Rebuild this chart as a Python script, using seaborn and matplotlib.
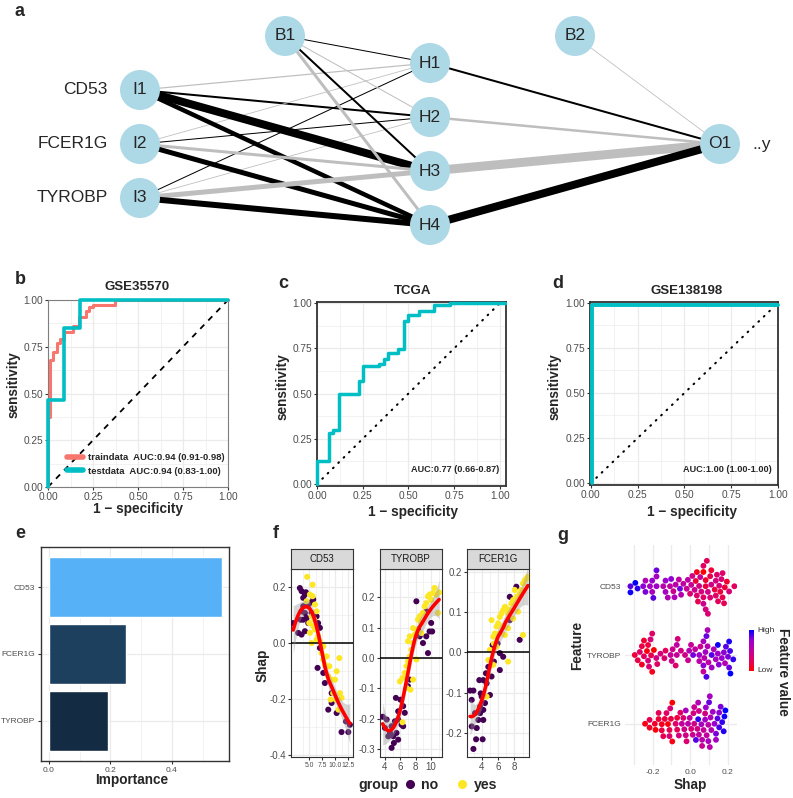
import numpy as np
import pandas as pd
import matplotlib
matplotlib.use("Agg")
import matplotlib.pyplot as plt
import seaborn as sns
from matplotlib.colors import LinearSegmentedColormap, Normalize, to_rgb
from matplotlib.lines import Line2D
import matplotlib.colorbar as mcolorbar

# ------------------------------------------------------------------ data
# (a) neural network
net_inputs = ["CD53", "FCER1G", "TYROBP"]
hidden_names = ["H1", "H2", "H3", "H4"]
w_ih = [[-1.2, 2.0, 8.0, 4.5],
        [-0.8, 1.0, -3.0, 5.0],
        [1.0, -0.8, -5.0, 6.0]]
w_b1h = [1.0, -1.0, 2.0, -3.0]
w_ho = [2.0, -2.5, -9.0, 8.0]
w_b2o = [-0.8]

# (b) GSE35570 ROC
train_fpr = [0, 0, 0.01, 0.01, 0.03, 0.03, 0.05, 0.05, 0.065, 0.065, 0.09, 0.09, 0.14, 0.14,
             0.17, 0.17, 0.21, 0.21, 0.23, 0.23, 0.25, 0.25, 0.37, 0.37, 1.0]
train_tpr = [0, 0.375, 0.375, 0.68, 0.68, 0.72, 0.72, 0.77, 0.77, 0.79, 0.79, 0.83, 0.83, 0.86,
             0.86, 0.91, 0.91, 0.94, 0.94, 0.96, 0.96, 0.975, 0.975, 1.0, 1.0]
test_fpr = [0, 0, 0.087, 0.087, 0.177, 0.177, 1.0]
test_tpr = [0, 0.464, 0.464, 0.848, 0.848, 1.0, 1.0]
b_labels = ["traindata  AUC:0.94 (0.91-0.98)", "testdata  AUC:0.94 (0.83-1.00)"]

# (c) TCGA ROC
tcga_fpr = [0, 0, 0.064, 0.064, 0.087, 0.087, 0.118, 0.118, 0.227, 0.227, 0.25, 0.25, 0.34, 0.34,
            0.364, 0.364, 0.39, 0.39, 0.445, 0.445, 0.473, 0.473, 0.496, 0.496, 0.555, 0.555,
            0.64, 0.64, 0.727, 0.727, 1.03]
tcga_tpr = [0, 0.127, 0.127, 0.28, 0.28, 0.30, 0.30, 0.497, 0.497, 0.57, 0.57, 0.65, 0.65, 0.665,
            0.665, 0.69, 0.69, 0.726, 0.726, 0.744, 0.744, 0.90, 0.90, 0.936, 0.936, 0.954,
            0.954, 0.99, 0.99, 1.0, 1.0]
tcga_auc = "AUC:0.77 (0.66-0.87)"

# (d) GSE138198 ROC
geo2_fpr = [0.005, 0.005, 1.0]
geo2_tpr = [0, 0.99, 0.99]
geo2_auc = "AUC:1.00 (1.00-1.00)"

# (e) importance
imp_features = ["CD53", "FCER1G", "TYROBP"]
imp_values = [0.564, 0.250, 0.193]

# (f)/(g) SHAP dependence data
cd53_no_x = [1.92, 3.2, 3.53, 3.85, 4.17, 3.85, 3.53, 3.33, 3.85, 4.17, 4.49, 4.81, 2.88, 3.53, 4.17,
             4.81, 4.36, 5.13, 5.77, 5.45, 6.41, 6.7, 7.05, 6.6, 7.7, 8.0, 9.3, 8.65, 9.3, 10.26,
             11.2, 12.05, 12.8, 12.5, 7.05]
cd53_no_y = [0.071, 0.196, 0.185, 0.161, 0.173, 0.131, 0.113, 0.083, 0.083, 0.107, 0.089, 0.071,
             0.036, 0.030, 0.042, 0.137, 0.181, 0.143, 0.155, 0.107, 0.095, 0.071, 0.054, -0.089,
             -0.107, -0.143, -0.179, -0.238, -0.214, -0.25, -0.318, -0.28, -0.292, -0.318, -0.018]
cd53_yes_x = [4.6, 5.64, 5.13, 5.64, 6.1, 4.49, 6.41, 5.45, 5.77, 5.13, 5.45, 6.1, 6.73, 7.05, 7.37,
              7.7, 8.0, 8.33, 8.85, 9.3, 9.94, 10.77, 10.26, 8.65, 9.6, 9.1, 10.1, 10.6, 10.9, 11.2,
              6.41, 7.7, 5.0, 5.96]
cd53_yes_y = [0.236, 0.208, 0.173, 0.167, 0.137, 0.149, 0.113, 0.095, 0.06, 0.036, 0.0, 0.048,
              0.024, 0.006, -0.036, -0.06, -0.077, -0.048, -0.083, -0.131, -0.131, -0.054, -0.101,
              -0.119, -0.179, -0.202, -0.202, -0.238, -0.179, -0.196, 0.012, -0.012, 0.071, 0.083]

tyrobp_no_x = [3.70, 4.22, 4.0, 4.86, 4.65, 5.08, 5.5, 5.72, 4.86, 5.29, 6.15, 6.37, 5.42, 6.02, 5.72,
               6.37, 6.58, 5.72, 7.23, 8.09, 8.3, 8.52, 8.95, 9.38, 9.6, 9.81, 10.02, 9.38, 10.15,
               7.0, 4.43, 5.16]
tyrobp_no_y = [-0.193, -0.202, -0.23, -0.224, -0.246, -0.257, -0.246, -0.268, -0.295, -0.208,
               -0.219, -0.224, -0.131, -0.137, -0.175, -0.158, -0.18, -0.202, -0.071, 0.186,
               0.093, 0.071, 0.049, 0.071, 0.016, 0.087, 0.115, 0.153, 0.087, -0.093, -0.257, -0.279]
tyrobp_yes_x = [6.28, 5.94, 6.28, 6.58, 6.8, 7.0, 7.23, 7.44, 7.66, 7.0, 7.23, 7.66, 8.09, 8.3, 8.52,
                8.73, 8.95, 9.16, 9.38, 9.6, 9.81, 10.02, 10.24, 10.45, 10.67, 10.9, 6.8, 7.31, 7.66,
                8.09, 7.87, 8.73, 11.05]
tyrobp_yes_y = [-0.211, -0.077, -0.066, -0.049, -0.027, -0.011, 0.005, 0.027, 0.049, 0.055, 0.071,
                0.098, 0.093, 0.126, 0.137, 0.115, 0.148, 0.169, 0.18, 0.202, 0.208, 0.191, 0.213,
                0.23, 0.208, 0.148, -0.098, -0.104, -0.071, -0.005, 0.076, 0.082, 0.215]

fcer1g_no_x = [2.53, 2.94, 2.73, 3.14, 2.73, 2.94, 3.27, 4.08, 3.35, 3.55, 3.76, 3.76, 4.16, 4.37,
               3.96, 3.67, 4.16, 4.57, 4.49, 4.78, 5.18, 5.47, 5.31, 6.2, 6.61, 6.2, 7.43, 8.24,
               8.65, 7.43, 4.16, 3.84, 4.98, 5.92]
fcer1g_no_y = [-0.095, -0.095, -0.118, -0.151, -0.184, -0.24, -0.216, -0.216, -0.188, -0.168,
               -0.151, -0.135, -0.143, -0.126, -0.11, -0.069, -0.069, -0.077, -0.052, -0.036,
               -0.06, -0.023, 0.018, -0.044, -0.011, -0.002, 0.138, 0.163, 0.031, 0.08, -0.168,
               -0.102, -0.106, 0.022]
fcer1g_yes_x = [4.78, 4.98, 5.39, 5.59, 5.8, 6.0, 6.2, 6.41, 6.61, 6.82, 7.02, 7.22, 7.43, 7.63,
                7.84, 8.04, 8.24, 8.45, 8.65, 8.86, 9.06, 9.27, 9.47, 9.67, 9.06, 6.61, 6.2, 5.8,
                5.47, 5.18, 6.82, 7.22, 7.84, 7.22, 5.39, 4.57]
fcer1g_yes_y = [-0.019, 0.006, 0.039, 0.047, 0.064, 0.072, 0.088, 0.097, 0.105, 0.113, 0.109,
                0.097, 0.105, 0.121, 0.13, 0.155, 0.138, 0.101, 0.146, 0.155, 0.171, 0.179, 0.183,
                0.188, 0.043, 0.064, 0.047, 0.014, 0.022, 0.08, 0.043, 0.06, 0.084, -0.023,
                -0.031, -0.11]

facet_order = ["CD53", "TYROBP", "FCER1G"]

# ------------------------------------------------------------------ style
sns.set_style("white")
plt.rcParams["font.family"] = ["Liberation Sans", "DejaVu Sans"]
plt.rcParams["axes.unicode_minus"] = False

W, H = 793, 798
fig = plt.figure(figsize=(W / 100, H / 100), dpi=100)


def add_ax(l, t, r, b):
    return fig.add_axes([l / W, 1 - b / H, (r - l) / W, (b - t) / H])


def ftext(x, y, s, **kw):
    return fig.text(x / W, 1 - y / H, s, **kw)


GRID = "#EBEBEB"
TICKC = "#4D4D4D"
SALMON = "#F8766D"
TEAL = "#00BFC4"
LAB = 9.8

# ------------------------------------------------------------------ (a) network
ax_net = fig.add_axes([0, 1 - 250 / H, 1, 250 / H])
ax_net.set_xlim(-140 / 290, (W - 140) / 290)
ax_net.set_ylim((250 - 144) / 54, -144 / 54)
ax_net.axis("off")

in_pos = [(0.0, i - 1.0) for i in range(len(net_inputs))]
hid_pos = [(1.0, j - 1.5) for j in range(len(hidden_names))]
out_pos = (2.0, 0.0)
b1_pos = (0.5, -2.0)
b2_pos = (1.5, -2.0)
k_w = 0.72


def edge(p, q, w):
    ax_net.plot([p[0], q[0]], [p[1], q[1]], color="black" if w > 0 else "#BEBEBE",
                lw=abs(w) * k_w, solid_capstyle="butt", zorder=1 + (abs(w) > 2))


for i, p in enumerate(in_pos):
    for j, q in enumerate(hid_pos):
        edge(p, q, w_ih[i][j])
for j, q in enumerate(hid_pos):
    edge(b1_pos, q, w_b1h[j])
    edge(q, out_pos, w_ho[j])
edge(b2_pos, out_pos, w_b2o[0])

nodes = in_pos + hid_pos + [out_pos, b1_pos, b2_pos]
names = ["I1", "I2", "I3"] + hidden_names + ["O1", "B1", "B2"]
ax_net.scatter([n[0] for n in nodes], [n[1] for n in nodes], s=829, color="#ADD8E6",
               edgecolor="none", zorder=5)
for n, nm in zip(nodes, names):
    ax_net.text(n[0], n[1], nm, ha="center", va="center", fontsize=12.5, zorder=6)
for p, nm in zip(in_pos, net_inputs):
    ax_net.annotate(nm, p, xytext=(-32, 0), textcoords="offset pixels", ha="right",
                    va="center", fontsize=12.5)
ax_net.annotate("..y", out_pos, xytext=(32, 0), textcoords="offset pixels", ha="left",
                va="center", fontsize=12.5)


# ------------------------------------------------------------------ ROC helpers
def roc_style(ax, xlim, ylim, frame_color, frame_lw):
    ax.set_xlim(xlim)
    ax.set_ylim(ylim)
    ticks = [0, 0.25, 0.5, 0.75, 1.0]
    ax.set_xticks(ticks)
    ax.set_yticks(ticks)
    ax.set_xticklabels([f"{t:.2f}" for t in ticks])
    ax.set_yticklabels([f"{t:.2f}" for t in ticks])
    minor = [0.125, 0.375, 0.625, 0.875]
    ax.set_xticks(minor, minor=True)
    ax.set_yticks(minor, minor=True)
    ax.grid(True, which="major", color=GRID, lw=0.9)
    ax.grid(True, which="minor", color=GRID, lw=0.45)
    ax.set_axisbelow(True)
    for s in ax.spines.values():
        s.set_visible(True)
        s.set_color(frame_color)
        s.set_linewidth(frame_lw)
    ax.tick_params(which="major", bottom=True, left=True, length=2.5, width=0.8,
                   color="#333333", labelsize=7.3, labelcolor=TICKC, pad=1.2)
    ax.tick_params(which="minor", length=0)
    ax.set_xlabel("")
    ax.set_ylabel("")


# (b)
ax_b = add_ax(48, 300, 228, 487)
ax_b.plot([0, 1], [0, 1], color="black", lw=1.3, dashes=(3.2, 3.2), zorder=2)
sns.lineplot(x=train_fpr, y=train_tpr, sort=False, estimator=None, color=SALMON, lw=2.2,
             ax=ax_b, clip_on=False, zorder=3)
sns.lineplot(x=test_fpr, y=test_tpr, sort=False, estimator=None, color=TEAL, lw=2.6,
             ax=ax_b, clip_on=False, zorder=4)
roc_style(ax_b, (0, 1), (0, 1), "#7F7F7F", 0.8)
handles = [Line2D([0], [0], color=SALMON, lw=4), Line2D([0], [0], color=TEAL, lw=4)]
ax_b.legend(handles, b_labels, loc="lower right", bbox_to_anchor=(1.0, 0.04),
            borderaxespad=0, frameon=False, prop={"weight": "bold", "size": 6.8},
            handlelength=1.7, handletextpad=0.5, labelspacing=0.45)

# (c)
ax_c = add_ax(317, 302, 506, 486)
ax_c.plot([0, 1], [0, 1], color="black", lw=1.5, ls=(0, (0.4, 3.2)), dash_capstyle="round",
          zorder=2)
sns.lineplot(x=tcga_fpr, y=tcga_tpr, sort=False, estimator=None, color=TEAL, lw=2.5,
             ax=ax_c, clip_on=False, zorder=3)
roc_style(ax_c, (0, 1.033), (-0.011, 1.0055), "#333333", 1.3)

# (d)
ax_d = add_ax(590, 302, 778, 485)
ax_d.plot([0, 1], [0, 1], color="black", lw=1.5, ls=(0, (0.4, 3.2)), dash_capstyle="round",
          zorder=2)
sns.lineplot(x=geo2_fpr, y=geo2_tpr, sort=False, estimator=None, color=TEAL, lw=2.8,
             ax=ax_d, clip_on=False, zorder=3)
roc_style(ax_d, (-0.005, 1.0), (-0.011, 1.005), "#333333", 1.3)

ftext(499, 470, tcga_auc, ha="right", va="center", fontsize=6.6, fontweight="bold")
ftext(772, 469, geo2_auc, ha="right", va="center", fontsize=6.6, fontweight="bold")

for x, y, t in [(137, 287, "GSE35570"), (413, 291, "TCGA"), (687, 291, "GSE138198")]:
    ftext(x, y, t, ha="center", va="center", fontsize=9.5, fontweight="bold")
for x, y in [(14, 385), (283, 387), (555, 387)]:
    ftext(x, y, "sensitivity", ha="center", va="center", rotation=90, fontsize=LAB,
          fontweight="bold")
for x, y in [(138, 509), (413, 512), (692, 512)]:
    ftext(x, y, "1 \u2212 specificity", ha="center", va="center", fontsize=LAB,
          fontweight="bold")

# ------------------------------------------------------------------ (e) importance
ax_e = add_ax(41, 547, 229, 761)
lo_c, hi_c = np.array(to_rgb("#132B43")), np.array(to_rgb("#56B1F7"))
vmin, vmax = min(imp_values), max(imp_values)
imp_pal = {f: tuple(lo_c + (hi_c - lo_c) * (v - vmin) / (vmax - vmin))
           for f, v in zip(imp_features, imp_values)}
sns.barplot(x=imp_values, y=imp_features, hue=imp_features, palette=imp_pal, orient="h",
            width=0.9, saturation=1, legend=False, ax=ax_e, order=imp_features)
ax_e.set_xlim(-0.026, 0.586)
ax_e.set_ylim(2.6, -0.6)
ax_e.set_xticks([0.0, 0.2, 0.4])
ax_e.set_xticklabels(["0.0", "0.2", "0.4"])
ax_e.set_xticks([0.1, 0.3, 0.5], minor=True)
ax_e.grid(True, which="major", color=GRID, lw=0.9)
ax_e.grid(True, which="minor", axis="x", color=GRID, lw=0.45)
ax_e.set_axisbelow(True)
for s in ax_e.spines.values():
    s.set_visible(True)
    s.set_color("#333333")
    s.set_linewidth(1.0)
ax_e.tick_params(which="major", bottom=True, left=True, length=2.5, width=0.8, color="#333333",
                 labelsize=6, labelcolor=TICKC, pad=1.5)
ax_e.tick_params(which="minor", length=0)
ax_e.set_xlabel("")
ax_e.set_ylabel("")
ftext(132, 780, "Importance", ha="center", va="center", fontsize=LAB, fontweight="bold")


# ------------------------------------------------------------------ (f) dependence facets
def loess_fit(x, y, grid, span=0.75):
    x = np.asarray(x, float)
    y = np.asarray(y, float)
    n = len(x)
    q = int(np.floor(n * span))

    def lvec(x0):
        d = np.abs(x - x0)
        h = np.sort(d)[q - 1]
        u = np.clip(d / h, 0, 1)
        w = (1 - u ** 3) ** 3
        X = np.column_stack([np.ones(n), x - x0, (x - x0) ** 2])
        XtW = X.T * w
        return np.linalg.solve(XtW @ X, XtW)[0]

    L = np.array([lvec(v) for v in x])
    res = y - L @ y
    sigma = np.sqrt(np.sum(res ** 2) / (n - np.trace(L)))
    Lg = np.array([lvec(g) for g in grid])
    return Lg @ y, sigma * np.sqrt(np.sum(Lg ** 2, axis=1))


dep = {
    "CD53": (cd53_no_x, cd53_no_y, cd53_yes_x, cd53_yes_y),
    "TYROBP": (tyrobp_no_x, tyrobp_no_y, tyrobp_yes_x, tyrobp_yes_y),
    "FCER1G": (fcer1g_no_x, fcer1g_no_y, fcer1g_yes_x, fcer1g_yes_y),
}
facet_cfg = {
    "CD53": dict(px=(291, 353), xlim=(1.5, 13.4), ylim=(-0.407, 0.264),
                 xt=[5.0, 7.5, 10.0, 12.5], xfmt="{:.1f}", xm=[3.75, 6.25, 8.75, 11.25],
                 yt=[-0.4, -0.2, 0.0, 0.2], ym=[-0.3, -0.1, 0.1], xfs=4.9),
    "TYROBP": dict(px=(380, 442), xlim=(3.35, 11.43), ylim=(-0.325, 0.292),
                   xt=[4, 6, 8, 10], xfmt="{:g}", xm=[5, 7, 9, 11],
                   yt=[-0.3, -0.2, -0.1, 0.0, 0.1, 0.2],
                   ym=[-0.25, -0.15, -0.05, 0.05, 0.15, 0.25], xfs=7),
    "FCER1G": dict(px=(467, 529), xlim=(2.15, 9.8), ylim=(-0.26, 0.207),
                   xt=[4, 6, 8], xfmt="{:g}", xm=[3, 5, 7, 9],
                   yt=[-0.2, -0.1, 0.0, 0.1, 0.2], ym=[-0.25, -0.15, -0.05, 0.05, 0.15], xfs=7),
}
grp_pal = {"no": "#440154", "yes": "#FDE725"}

g_rows = []
for feat in facet_order:
    nx, ny, yx, yy = dep[feat]
    df = pd.DataFrame({"value": list(nx) + list(yx), "shap": list(ny) + list(yy),
                       "group": ["no"] * len(nx) + ["yes"] * len(yx)})
    cfg = facet_cfg[feat]
    l, r = cfg["px"]
    ax = add_ax(l, 569, r, 757)
    sns.scatterplot(data=df, x="value", y="shap", hue="group", palette=grp_pal, s=19,
                    edgecolor="none", legend=False, ax=ax, zorder=3)
    ax.axhline(0, color="black", lw=1.1, zorder=4)
    grid = np.linspace(df["value"].min(), df["value"].max(), 80)
    fit, se = loess_fit(df["value"], df["shap"], grid)
    ax.fill_between(grid, fit - 1.96 * se, fit + 1.96 * se, color="#999999", alpha=0.4,
                    lw=0, zorder=5)
    ax.plot(grid, fit, color="red", lw=2.6, zorder=6)
    ax.set_xlim(cfg["xlim"])
    ax.set_ylim(cfg["ylim"])
    ax.set_xticks(cfg["xt"])
    ax.set_xticklabels([cfg["xfmt"].format(v) for v in cfg["xt"]])
    ax.set_yticks(cfg["yt"])
    ax.set_yticklabels([f"{v:.1f}" for v in cfg["yt"]])
    ax.set_xticks(cfg["xm"], minor=True)
    ax.set_yticks(cfg["ym"], minor=True)
    ax.grid(True, which="major", color=GRID, lw=0.9)
    ax.grid(True, which="minor", color=GRID, lw=0.45)
    ax.set_axisbelow(True)
    for s in ax.spines.values():
        s.set_visible(True)
        s.set_color("#333333")
        s.set_linewidth(0.8)
    ax.tick_params(which="major", bottom=True, left=True, length=2.5, width=0.8,
                   color="#333333", labelsize=7, labelcolor=TICKC, pad=1.2)
    ax.tick_params(axis="x", which="major", labelsize=cfg["xfs"])
    ax.tick_params(which="minor", length=0)
    ax.set_xlabel("")
    ax.set_ylabel("")
    sax = add_ax(l, 549, r, 569)
    sax.set_facecolor("#D9D9D9")
    sax.set_xticks([])
    sax.set_yticks([])
    for s in sax.spines.values():
        s.set_visible(True)
        s.set_color("#333333")
        s.set_linewidth(0.8)
    sax.text(0.5, 0.5, feat, ha="center", va="center", fontsize=7, color="#1A1A1A",
             transform=sax.transAxes)
    vals = df["value"].to_numpy()
    norm_v = (vals - vals.min()) / (vals.max() - vals.min())
    for sv, nv in zip(df["shap"], norm_v):
        g_rows.append((feat, sv, nv))

ftext(263, 665, "Shap", ha="center", va="center", rotation=90, fontsize=LAB,
      fontweight="bold")
ftext(358, 785, "group", ha="left", va="center", fontsize=10.2, fontweight="bold")
fh = [Line2D([0], [0], marker="o", ls="none", color=grp_pal[k], markersize=5.5) for k in ["no", "yes"]]
fig.legend(fh, ["no", "yes"], loc="center left", bbox_to_anchor=(404 / W, 1 - 785 / H),
           ncol=2, frameon=False, prop={"weight": "bold", "size": 10.2}, handlelength=0.8,
           handletextpad=0.4, columnspacing=1.3, borderaxespad=0, borderpad=0)

# ------------------------------------------------------------------ (g) SHAP summary
g_df = pd.DataFrame(g_rows, columns=["feature", "shap", "value"])
shap_cmap = LinearSegmentedColormap.from_list(
    "shap", ["#FF0000", "#E2005F", "#C4009C", "#9A00CF", "#0000FF"])
ax_g = add_ax(625, 545, 737, 765)
sns.swarmplot(data=g_df, x="shap", y="feature", hue="value", palette=shap_cmap,
              hue_norm=(0, 1), order=facet_order, size=4.2, linewidth=0, legend=False,
              ax=ax_g, zorder=3)
ax_g.set_xlim(-0.347, 0.25)
ax_g.set_ylim(2.6, -0.6)
ax_g.set_xticks([-0.2, 0.0, 0.2])
ax_g.set_xticklabels(["-0.2", "0.0", "0.2"])
ax_g.set_xticks([-0.3, -0.1, 0.1], minor=True)
ax_g.grid(True, which="major", color=GRID, lw=1.0)
ax_g.grid(True, which="minor", axis="x", color=GRID, lw=1.0)
ax_g.set_axisbelow(True)
for s in ax_g.spines.values():
    s.set_visible(False)
ax_g.tick_params(which="both", length=0, labelsize=6, labelcolor=TICKC, pad=3)
ax_g.set_xlabel("")
ax_g.set_ylabel("")
ftext(577, 645, "Feature", ha="center", va="center", rotation=90, fontsize=LAB,
      fontweight="bold")
ftext(690, 785, "Shap", ha="center", va="center", fontsize=LAB, fontweight="bold")

cax = add_ax(749, 630, 754, 671)
cb = mcolorbar.ColorbarBase(cax, cmap=shap_cmap, norm=Normalize(0, 1))
cb.outline.set_visible(False)
cax.set_xticks([])
cax.set_yticks([])
ftext(757, 631, "High", ha="left", va="center", fontsize=6, color="#333333")
ftext(757, 671, "Low", ha="left", va="center", fontsize=6, color="#333333")
ftext(783, 672, "Feature value", ha="center", va="center", rotation=-90, fontsize=LAB,
      fontweight="bold")

# ------------------------------------------------------------------ panel letters
for x, y, t in [(14, 12, "a"), (15, 279, "b"), (278, 283, "c"), (552, 283, "d"),
                (15, 533, "e"), (273, 533, "f"), (557, 536, "g")]:
    ftext(x, y, t, ha="left", va="center", fontsize=13, fontweight="bold")

fig.savefig("out.png", dpi=100)
